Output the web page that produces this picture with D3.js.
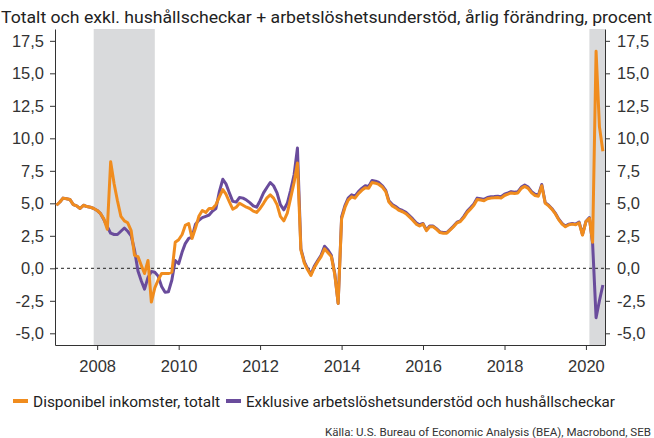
<!DOCTYPE html>
<html>
<head>
<meta charset="utf-8">
<script src="https://cdn.jsdelivr.net/npm/d3@7"></script>
<style>
  body { margin: 0; background: #fff; }
  svg { display: block; font-family: "Roboto", "Liberation Sans", sans-serif; }
  .axis text { font-size: 16.5px; fill: #333; }
  .axis path, .axis line { stroke: #333; }
</style>
</head>
<body>
<div id="chart"></div>
<script>
// monthly series, Jan 2007 - Jun 2020, yoy %
var firstMonth = "2007-01";
var totalt = [
  4.85, 5.1, 5.4, 5.35, 5.3, 4.9, 4.8, 4.6, 4.85, 4.75, 4.7, 4.6,
  4.45, 4.2, 3.8, 3.0, 8.2, 6.5, 5.2, 4.0, 3.65, 3.5, 2.9, 1.0,
  0.9, 0.2, -0.4, 0.6, -2.6, -1.5, -0.9, -0.4, -0.4, -0.4, -0.3, 2.0,
  2.2, 2.6, 3.3, 3.45, 2.3, 3.1, 4.0, 4.45, 4.3, 4.6, 4.6, 4.9,
  5.5, 6.05, 5.7, 5.1, 4.55, 4.7, 5.0, 4.85, 4.7, 4.6, 4.4, 4.3,
  4.6, 5.0, 5.4, 5.65, 5.4, 4.9, 4.0, 3.65, 4.25, 5.4, 6.6, 8.1,
  1.4, 0.4, -0.1, -0.55, 0.05, 0.5, 0.9, 1.5, 1.2, 0.9, -0.5, -2.7,
  3.8, 4.7, 5.25, 5.5, 5.4, 5.75, 6.0, 6.2, 6.15, 6.6, 6.55, 6.45,
  6.25, 5.9, 5.1, 4.8, 4.65, 4.45, 4.35, 4.2, 3.95, 3.7, 3.4, 3.25,
  3.4, 2.9, 3.2, 3.2, 3.0, 2.75, 2.7, 2.7, 2.95, 3.2, 3.5, 3.6,
  3.9, 4.3, 4.55, 4.85, 5.3, 5.25, 5.2, 5.35, 5.4, 5.42, 5.45, 5.4,
  5.6, 5.7, 5.8, 5.75, 5.8, 6.15, 6.3, 6.15, 5.8, 5.6, 5.55, 6.35,
  5.0, 4.8, 4.55, 4.2, 3.75, 3.4, 3.2, 3.35, 3.4, 3.35, 3.5, 2.55,
  3.6, 3.85, 2.0, 16.7, 10.9, 9.0
];
var exklusive = [
  4.85, 5.1, 5.4, 5.35, 5.3, 4.9, 4.8, 4.6, 4.85, 4.75, 4.7, 4.6,
  4.45, 4.2, 3.75, 3.2, 2.7, 2.6, 2.6, 2.85, 3.1, 2.85, 2.5, 1.4,
  -0.2, -1.0, -1.6, -0.7, -0.25, -0.3, -0.6, -1.4, -1.85, -1.8, -0.9, 0.6,
  0.35, 1.25, 1.9, 2.3, 2.4, 3.4, 3.7, 3.9, 4.0, 4.1, 4.4, 4.6,
  5.9, 6.85, 6.5, 5.8, 5.15, 5.1, 5.45, 5.4, 5.25, 5.05, 4.8, 4.7,
  5.2, 5.8, 6.2, 6.6, 6.35, 5.8, 4.9, 4.5, 5.0, 6.0, 7.2, 9.25,
  1.5, 0.5, 0.0, -0.45, 0.15, 0.6, 1.0, 1.7, 1.4, 1.0, -0.4, -2.7,
  3.95, 4.85, 5.4, 5.65, 5.55, 5.9, 6.15, 6.35, 6.3, 6.75, 6.7, 6.6,
  6.35, 6.0, 5.2, 4.9, 4.75, 4.55, 4.45, 4.3, 4.05, 3.8, 3.5, 3.35,
  3.45, 2.95, 3.25, 3.25, 3.05, 2.8, 2.75, 2.75, 3.0, 3.25, 3.55, 3.65,
  4.0, 4.4, 4.65, 4.95, 5.4, 5.35, 5.3, 5.45, 5.5, 5.52, 5.55, 5.5,
  5.7, 5.8, 5.9, 5.85, 5.9, 6.25, 6.4, 6.25, 5.9, 5.7, 5.65, 6.45,
  5.05, 4.85, 4.6, 4.25, 3.8, 3.45, 3.25, 3.4, 3.45, 3.4, 3.55, 2.6,
  3.6, 3.9, 1.9, -3.8, -2.5, -1.28
];
var recessions = [["2007-12-01", "2009-06-01"], ["2020-02-01", "2020-06-30"]];
var yTicks = [-5, -2.5, 0, 2.5, 5, 7.5, 10, 12.5, 15, 17.5];
var xTickYears = [2008, 2010, 2012, 2014, 2016, 2018, 2020];
var seriesNames = ["Disponibel inkomster, totalt", "Exklusive arbetslöshetsunderstöd och hushållscheckar"];
var colors = ["#f08c1e", "#6a4c9c"];
var subtitle = "Totalt och exkl. hushållscheckar + arbetslöshetsunderstöd, årlig förändring, procent";
var source = "Källa: U.S. Bureau of Economic Analysis (BEA), Macrobond, SEB";

var w = 654, h = 438;
var plot = {left: 55, right: 605, top: 29, bottom: 345};
var parse = d3.timeParse("%Y-%m-%d");
var start = d3.timeParse("%Y-%m")(firstMonth);
var months = totalt.map(function(d, i) { return d3.timeMonth.offset(start, i); });

var x = d3.scaleTime()
  .domain([new Date(2006, 11, 19), new Date(2020, 5, 20)])
  .range([plot.left, plot.right]);
var y = d3.scaleLinear().domain([-5.9, 18.41]).range([plot.bottom, plot.top]);

var svg = d3.select("#chart").append("svg").attr("width", w).attr("height", h);

svg.append("text")
  .attr("x", 1).attr("y", 23)
  .attr("textLength", 651).attr("lengthAdjust", "spacingAndGlyphs")
  .style("font-size", "16px").style("fill", "#222")
  .text(subtitle);

var x0 = x.domain()[0], x1 = x.domain()[1];
svg.append("g").selectAll("rect")
  .data(recessions)
  .enter().append("rect")
  .attr("x", function(d) { return x(Math.max(x0, parse(d[0]))); })
  .attr("width", function(d) { return x(Math.min(x1, parse(d[1]))) - x(Math.max(x0, parse(d[0]))); })
  .attr("y", plot.top)
  .attr("height", plot.bottom - plot.top)
  .attr("fill", "#d9dadc");

var fmt = function(v) { return v.toFixed(1).replace(".", ","); };

svg.append("g").attr("class", "axis")
  .attr("transform", "translate(" + plot.left + ",0)")
  .call(d3.axisLeft(y).tickValues(yTicks).tickFormat(fmt).tickSize(5).tickSizeOuter(0).tickPadding(6));
svg.append("g").attr("class", "axis")
  .attr("transform", "translate(" + plot.right + ",0)")
  .call(d3.axisRight(y).tickValues(yTicks).tickFormat(fmt).tickSize(5).tickSizeOuter(0).tickPadding(7));
svg.append("g").attr("class", "axis")
  .attr("transform", "translate(0," + plot.bottom + ")")
  .call(d3.axisBottom(x)
    .tickValues(xTickYears.map(function(yr) { return new Date(yr, 0, 1); }))
    .tickFormat(d3.timeFormat("%Y")).tickSize(5).tickSizeOuter(0).tickPadding(10));

svg.append("line")
  .attr("x1", plot.left).attr("x2", plot.right)
  .attr("y1", y(0)).attr("y2", y(0))
  .attr("stroke", "#222").attr("stroke-width", 1).attr("stroke-dasharray", "3,3");

var line = d3.line()
  .x(function(d, i) { return x(months[i]); })
  .y(function(d) { return y(d); });

[exklusive, totalt].forEach(function(s, k) {
  svg.append("path")
    .datum(s)
    .attr("fill", "none")
    .attr("stroke", colors[1 - k])
    .attr("stroke-width", 3)
    .attr("stroke-linejoin", "round")
    .attr("d", line);
});

// legend
var legendX = [13, 226];
var legendLen = [187, 369];
seriesNames.forEach(function(name, i) {
  var g = svg.append("g").attr("transform", "translate(" + legendX[i] + ",401)");
  g.append("line").attr("x1", 0).attr("x2", 15).attr("y1", 0).attr("y2", 0)
    .attr("stroke", colors[i]).attr("stroke-width", 4);
  g.append("text").attr("x", 20).attr("y", 6)
    .attr("textLength", legendLen[i]).attr("lengthAdjust", "spacingAndGlyphs")
    .style("font-size", "15.5px").style("fill", "#222")
    .text(name);
});

svg.append("text")
  .attr("x", 651).attr("y", 436)
  .attr("text-anchor", "end")
  .attr("textLength", 326).attr("lengthAdjust", "spacingAndGlyphs")
  .style("font-size", "11.5px").style("fill", "#333")
  .text(source);
</script>
</body>
</html>
